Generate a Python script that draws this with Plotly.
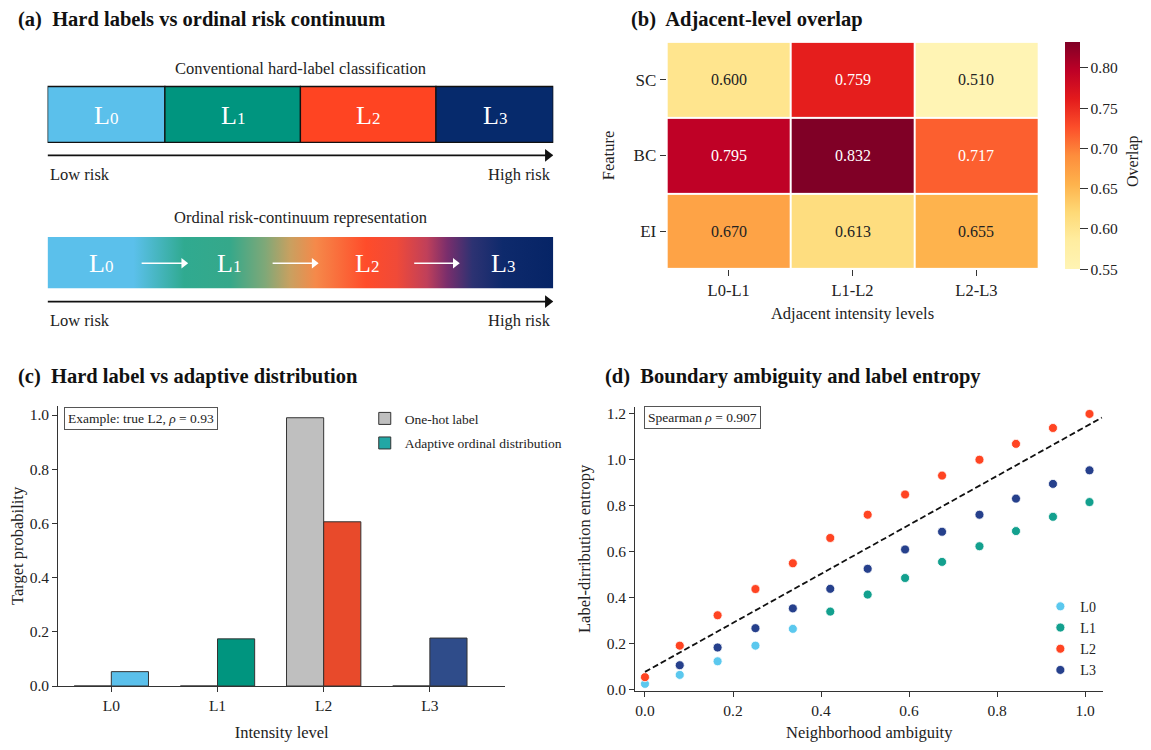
import plotly.graph_objects as go

# page is photographed at 1151x750; the html body keeps an 8px margin
W, H = 1151, 750
PAD = 8
FW, FH = W - 2 * PAD, H - 2 * PAD
SY = 0.991          # small vertical squeeze seen in the photographed page
FONT = "Liberation Serif"
INK = "#222222"

# ---- shared level info
LEVELS = ["L0", "L1", "L2", "L3"]
LEVEL_COLORS = ["#5BC0EB", "#00957F", "#FF4422", "#062A6C"]   # panel a
BAR_COLORS = ["#5BC0EB", "#00957F", "#E84A2B", "#2F4C8A"]     # panel c
DOT_COLORS = ["#5BC8EE", "#13A08E", "#FF4422", "#26408C"]     # panel d

# ---- (a) schematic
HARD_EDGES = [0.0, 0.232, 0.5, 0.768, 1.0]
SOFT_LABEL_X = [0.105, 0.359, 0.632, 0.90]
SOFT_ARROW_X0 = [0.186, 0.445, 0.725]
SOFT_ARROW_X1 = [0.278, 0.536, 0.815]
GRADIENT = [
    [0.00, "#5BC0EB"], [0.17, "#5BC0EB"], [0.27, "#30AA90"], [0.36, "#35A88A"],
    [0.43, "#7FA878"], [0.48, "#C9A060"], [0.53, "#F5894A"], [0.63, "#FF4C2A"],
    [0.69, "#F04A38"], [0.75, "#C0405A"], [0.79, "#7A2E6C"], [0.84, "#2D3272"],
    [0.90, "#0E2A6C"], [1.00, "#062466"],
]

# ---- (b) heatmap
FEATURES = ["SC", "BC", "EI"]
PAIRS = ["L0-L1", "L1-L2", "L2-L3"]
OVERLAP_SC = [0.600, 0.759, 0.510]
OVERLAP_BC = [0.795, 0.832, 0.717]
OVERLAP_EI = [0.670, 0.613, 0.655]
YLORRD = ["#fff4b4", "#ffeda0", "#fed976", "#feb24c", "#fd8d3c",
          "#fc4e2a", "#e31a1c", "#bd0026", "#800026"]

# ---- (c) bars
ONE_HOT = [0.0, 0.0, 0.99, 0.0]
ADAPTIVE = [0.053, 0.174, 0.606, 0.177]

# ---- (d) scatter
AMB_L0 = [0.0, 0.079, 0.165, 0.251, 0.336]
ENT_L0 = [0.026, 0.065, 0.124, 0.192, 0.265]
AMB_L1 = [0.421, 0.506, 0.591, 0.675, 0.760, 0.843, 0.927, 1.010]
ENT_L1 = [0.340, 0.414, 0.486, 0.556, 0.624, 0.690, 0.752, 0.816]
AMB_L2 = [0.0, 0.079, 0.165, 0.251, 0.336, 0.421, 0.506, 0.591, 0.675, 0.760, 0.843, 0.927, 1.010]
ENT_L2 = [0.055, 0.192, 0.324, 0.438, 0.550, 0.660, 0.761, 0.849, 0.931, 1.000, 1.069, 1.138, 1.199]
AMB_L3 = [0.079, 0.165, 0.251, 0.336, 0.421, 0.506, 0.591, 0.675, 0.760, 0.843, 0.927, 1.010]
ENT_L3 = [0.107, 0.184, 0.268, 0.354, 0.439, 0.526, 0.610, 0.687, 0.761, 0.831, 0.895, 0.954]
FIT_X = [0.0, 1.038]
FIT_Y = [0.078, 1.183]


def fx(px):
    return (px - PAD) / FW


def fy(py):
    return 1 - (py / SY - PAD) / FH


fig = go.Figure()
annos = []
shapes = []

# ================= (a) =================
A_LEFT, A_RIGHT = 43.7, 551.2
A_TOP, A_BOT = 40, 335
BAR1 = (85, 141.3)
BAR2 = (236.7, 288.3)


def sub_label(lvl):
    return "L<span style='font-size:17px'>%s</span>" % lvl[1]


for i, lvl in enumerate(LEVELS):
    shapes.append(dict(type="rect", xref="x5", yref="y5", x0=HARD_EDGES[i], x1=HARD_EDGES[i + 1],
                       y0=BAR1[0], y1=BAR1[1], fillcolor=LEVEL_COLORS[i],
                       line=dict(color="#111111", width=1.3)))
    annos.append(dict(xref="x5", yref="y5", x=(HARD_EDGES[i] + HARD_EDGES[i + 1]) / 2,
                      y=(BAR1[0] + BAR1[1]) / 2 + 1, text=sub_label(lvl), showarrow=False,
                      font=dict(family=FONT, size=26, color="white")))
    annos.append(dict(xref="x5", yref="y5", x=SOFT_LABEL_X[i], y=(BAR2[0] + BAR2[1]) / 2 + 1,
                      text=sub_label(lvl), showarrow=False,
                      font=dict(family=FONT, size=26, color="white")))

fig.add_trace(go.Scatter(
    x=[0, 1, 1, 0, 0], y=[BAR2[0], BAR2[0], BAR2[1], BAR2[1], BAR2[0]],
    xaxis="x5", yaxis="y5", mode="lines", line=dict(width=0), fill="toself",
    fillgradient=dict(type="horizontal", colorscale=GRADIENT),
    hoverinfo="skip", showlegend=False))

px_unit = 1.0 / (A_RIGHT - A_LEFT)   # x5 units per pixel


def arrow(x0, x1, y, color, width, head):
    tip = x1 - head * 0.5 * px_unit
    fig.add_trace(go.Scatter(x=[x0, tip], y=[y, y], xaxis="x5", yaxis="y5", mode="lines",
                             line=dict(color=color, width=width), hoverinfo="skip",
                             showlegend=False))
    fig.add_trace(go.Scatter(x=[tip], y=[y], xaxis="x5", yaxis="y5", mode="markers",
                             marker=dict(symbol="triangle-right", size=head, color=color,
                                         line=dict(width=0)),
                             hoverinfo="skip", showlegend=False))


for x0, x1 in zip(SOFT_ARROW_X0, SOFT_ARROW_X1):
    arrow(x0, x1, 263, "white", 1.4, 9)

for yy, ylab, ysub, sub in [(154.3, 173.3, 66.7, "Conventional hard-label classification"),
                            (301.7, 320.7, 216.7, "Ordinal risk-continuum representation")]:
    arrow(0, 1, yy, "#111111", 1.8, 11)
    annos.append(dict(xref="x5", yref="y5", x=0, y=ylab, text="Low risk", showarrow=False,
                      xanchor="left", font=dict(family=FONT, size=16.5, color=INK)))
    annos.append(dict(xref="x5", yref="y5", x=1, y=ylab, text="High risk", showarrow=False,
                      xanchor="right", font=dict(family=FONT, size=16.5, color=INK)))
    annos.append(dict(xref="x5", yref="y5", x=0.5, y=ysub, text=sub, showarrow=False,
                      font=dict(family=FONT, size=16.5, color=INK)))

# ================= (b) =================
Z = [OVERLAP_SC, OVERLAP_BC, OVERLAP_EI]
fig.add_trace(go.Heatmap(
    z=Z, x=PAIRS, y=FEATURES, xaxis="x2", yaxis="y2",
    colorscale=[[i / 8, c] for i, c in enumerate(YLORRD)],
    zmin=0.55, zmax=0.832, xgap=2, ygap=2, hoverinfo="skip",
    colorbar=dict(x=fx(1065), xanchor="left", xpad=0, y=fy(269), yanchor="bottom", ypad=0,
                  len=fy(40) - fy(269), lenmode="fraction", thickness=15, outlinewidth=0,
                  tickvals=[0.55, 0.60, 0.65, 0.70, 0.75, 0.80], tickformat=".2f",
                  ticks="outside", ticklen=8, tickwidth=1.1, tickcolor="#333",
                  tickfont=dict(family=FONT, size=15.5, color=INK)),
))
annos.append(dict(xref="paper", yref="paper", x=fx(1133), y=fy(160), text="Overlap",
                  textangle=-90, showarrow=False, xanchor="center", yanchor="middle",
                  font=dict(family=FONT, size=16, color=INK)))
for r, feat in enumerate(FEATURES):
    for c, pair in enumerate(PAIRS):
        v = Z[r][c]
        annos.append(dict(xref="x2", yref="y2", x=pair, y=feat, text="%.3f" % v, showarrow=False,
                          font=dict(family=FONT, size=16, color="white" if v >= 0.7 else INK)))

# ================= (c) =================
fig.add_trace(go.Bar(
    x=LEVELS, y=ONE_HOT, width=0.35, offset=-0.35, name="One-hot label",
    marker=dict(color="#BFBFBF", line=dict(color="#333333", width=1)),
    legend="legend", legendgroup="onehot", hoverinfo="skip"))
fig.add_trace(go.Bar(
    x=LEVELS, y=ADAPTIVE, width=0.35, offset=0.0, showlegend=False,
    marker=dict(color=BAR_COLORS, line=dict(color="#333333", width=1)),
    hoverinfo="skip"))
fig.add_trace(go.Bar(
    x=[None], y=[None], name="Adaptive ordinal distribution",
    marker=dict(color="#22A7A5", line=dict(color="#333333", width=1)),
    legend="legend", legendgroup="adaptive", hoverinfo="skip"))

annos.append(dict(xref="paper", yref="paper", x=fx(137.5), y=fy(419), xanchor="center",
                  yanchor="middle", text="Example: true L2, <i>ρ</i> = 0.93", showarrow=False,
                  bordercolor="#555", borderwidth=1, borderpad=3, bgcolor="white",
                  font=dict(family=FONT, size=13.5, color=INK)))

# ================= (d) =================
for lvl, xs, ys, col in zip(LEVELS, [AMB_L0, AMB_L1, AMB_L2, AMB_L3],
                            [ENT_L0, ENT_L1, ENT_L2, ENT_L3], DOT_COLORS):
    fig.add_trace(go.Scatter(
        x=xs, y=ys, mode="markers", name=lvl, xaxis="x3", yaxis="y3", legend="legend2",
        marker=dict(size=9, color=col, line=dict(color="white", width=0.8)),
        hoverinfo="skip"))
fig.add_trace(go.Scatter(
    x=FIT_X, y=FIT_Y, mode="lines", xaxis="x3", yaxis="y3", showlegend=False,
    line=dict(color="#111111", width=1.8, dash="6px,3px"), hoverinfo="skip"))

annos.append(dict(xref="paper", yref="paper", x=fx(701), y=fy(418), xanchor="center",
                  yanchor="middle", text="Spearman <i>ρ</i> = 0.907", showarrow=False,
                  bordercolor="#555", borderwidth=1, borderpad=3, bgcolor="white",
                  font=dict(family=FONT, size=13.5, color=INK)))

# ---- panel titles
for px_, py_, t in [(12, 17, "(a)  Hard labels vs ordinal risk continuum"),
                    (627, 17, "(b)  Adjacent-level overlap"),
                    (12, 377, "(c)  Hard label vs adaptive distribution"),
                    (601, 377, "(d)  Boundary ambiguity and label entropy")]:
    annos.append(dict(xref="paper", yref="paper", x=fx(px_), y=fy(py_), text="<b>%s</b>" % t,
                      showarrow=False, xanchor="left", yanchor="middle",
                      font=dict(family=FONT, size=20.5, color="#111111")))

tick_font = dict(family=FONT, size=15.5, color=INK)
title_font = dict(family=FONT, size=16.5, color=INK)
spine = dict(showline=True, linecolor="#333333", linewidth=1.2, ticks="outside", ticklen=5,
             tickcolor="#333333", showgrid=False, zeroline=False, tickfont=tick_font)

fig.update_layout(
    width=FW, height=FH, margin=dict(l=0, r=0, t=0, b=0),
    paper_bgcolor="white", plot_bgcolor="rgba(0,0,0,0)",
    font=dict(family=FONT, color=INK),
    barmode="overlay",
    shapes=shapes, annotations=annos,
    # (c)
    xaxis=dict(domain=[fx(54.4), fx(503)], anchor="y", range=[-0.5, 3.71],
               title=dict(text="Intensity level", font=title_font, standoff=14), **spine),
    yaxis=dict(domain=[fy(689), fy(406.7)], anchor="x", range=[0, 1.034],
               tickvals=[0, 0.2, 0.4, 0.6, 0.8, 1.0], tickformat=".1f",
               title=dict(text="Target probability", font=title_font, standoff=10), **spine),
    # (b)
    xaxis2=dict(domain=[fx(665), fx(1038)], anchor="y2", showline=False, ticks="outside",
                ticklen=6, tickcolor="#333", tickfont=dict(family=FONT, size=16.5, color=INK),
                showgrid=False, zeroline=False,
                title=dict(text="Adjacent intensity levels", font=title_font, standoff=8)),
    yaxis2=dict(domain=[fy(269), fy(40)], anchor="x2", autorange="reversed", showline=False,
                ticks="outside", ticklen=6, tickcolor="#333",
                tickfont=dict(family=FONT, size=17, color=INK), showgrid=False, zeroline=False,
                title=dict(text="Feature", font=title_font, standoff=14)),
    # (d)
    xaxis3=dict(domain=[fx(633.5), fx(1103)], anchor="y3", range=[-0.022, 1.041],
                tickvals=[0, 0.2, 0.4, 0.6, 0.8, 1.0], tickformat=".1f",
                title=dict(text="Neighborhood ambiguity", font=title_font, standoff=12), **spine),
    yaxis3=dict(domain=[fy(694), fy(407.7)], anchor="x3", range=[-0.005, 1.23],
                tickvals=[0, 0.2, 0.4, 0.6, 0.8, 1.0, 1.2], tickformat=".1f",
                title=dict(text="Label-dirribution entropy", font=title_font, standoff=11), **spine),
    # (a)
    xaxis5=dict(domain=[fx(A_LEFT), fx(A_RIGHT)], anchor="y5", range=[0, 1], visible=False),
    yaxis5=dict(domain=[fy(A_BOT), fy(A_TOP)], anchor="x5", range=[A_BOT, A_TOP], visible=False),
    legend=dict(x=fx(362), y=fy(404), xanchor="left", yanchor="top", bgcolor="rgba(0,0,0,0)",
                font=dict(family=FONT, size=13.5, color=INK), tracegroupgap=4),
    legend2=dict(x=fx(1040), y=fy(593), xanchor="left", yanchor="top", bgcolor="rgba(0,0,0,0)",
                 font=dict(family=FONT, size=14, color=INK)),
)

fig.write_html("out.html")
